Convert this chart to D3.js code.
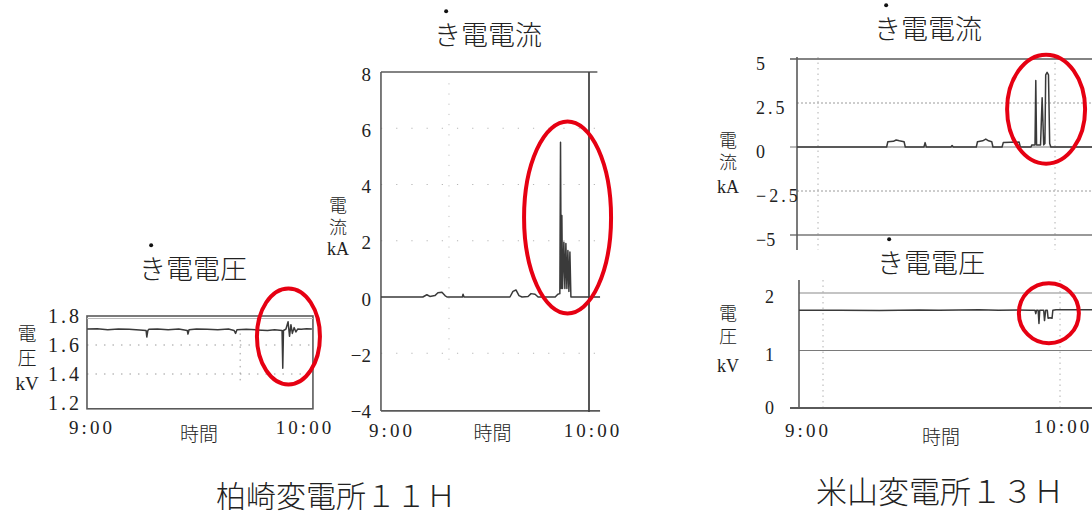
<!DOCTYPE html>
<html><head><meta charset="utf-8">
<script src="https://cdn.jsdelivr.net/npm/d3@7"></script>
<style>
body{margin:0;background:#fff;}
svg{display:block;}
text{font-family:"Liberation Serif","DejaVu Serif","Noto Sans CJK JP",serif;fill:#222;}
.cjk{font-family:"Noto Sans CJK JP",sans-serif;font-weight:300;}
.vert{writing-mode:vertical-rl;text-orientation:upright;}
</style></head><body>
<svg id="c" width="1092" height="516"></svg>
<script>
// ---------- data ----------
const timeTicks = [0, 60];               // minutes after 9:00
const timeTickLabels = ["9:00", "10:00"];

// 柏崎変電所11H  き電電圧 (kV)
const kVoltTicks = [1.8, 1.6, 1.4, 1.2];
const kVoltTickLabels = ["1.8", "1.6", "1.4", "1.2"];
const kVoltTime  = [-0.8, 2, 5, 8, 11, 14, 15.8, 16.0, 16.3, 16.6, 19, 22, 25, 27.4, 27.6, 27.9, 30, 33, 36, 39, 40.6, 41, 41.4, 44, 47, 50, 52, 54.1, 54.3, 54.5, 55.2, 55.8, 56.2, 56.6, 57.0, 57.5, 58.0, 58.5, 59.5, 61, 62.5];
const kVoltValue = [1.71, 1.712, 1.706, 1.71, 1.708, 1.704, 1.70, 1.655, 1.70, 1.708, 1.71, 1.705, 1.71, 1.70, 1.675, 1.705, 1.71, 1.708, 1.706, 1.71, 1.70, 1.68, 1.705, 1.708, 1.704, 1.70, 1.705, 1.70, 1.44, 1.70, 1.71, 1.76, 1.66, 1.74, 1.68, 1.72, 1.69, 1.71, 1.708, 1.712, 1.71];

// 柏崎変電所11H  き電電流 (kA)
const kCurTicks = [8, 6, 4, 2, 0, -2, -4];
const kCurTickLabels = ["8", "6", "4", "2", "0", "−2", "−4"];
const kCurTime  = [-2.1, 10.4, 11.6, 12.5, 14, 14.9, 16.1, 17, 17.6, 22.2, 22.4, 22.7, 36.4, 37.3, 38.2, 39.1, 40, 41.8, 42.7, 43.9, 44.8, 49.9, 50.7, 51.3, 51.5, 51.7, 51.9, 52.1, 52.5, 52.8, 53.1, 53.4, 53.7, 54.0, 54.3, 54.6, 63.3];
const kCurValue = [0, 0, 0.08, 0.02, 0.05, 0.15, 0.17, 0.05, 0, 0, 0.1, 0, 0, 0.2, 0.25, 0.05, 0, 0.02, 0.12, 0.1, 0, 0, 0.1, 0.12, 5.5, 0.3, 2.9, 0.3, 1.95, 0.3, 1.9, 0.3, 1.65, 0.2, 1.6, 0, 0];

// 米山変電所13H  き電電流 (kA)
const yCurTicks = [5, 2.5, 0, -2.5, -5];
const yCurTickLabels = ["5", "2.5", "0", "−2.5", "−5"];
const yCurTime  = [-5.8, 16.8, 17.1, 18.5, 19.2, 20.0, 21.2, 21.5, 26.2, 26.5, 26.8, 33, 33.3, 33.6, 39.4, 39.7, 41, 41.8, 42.5, 43.3, 43.6, 45.9, 46.2, 50.2, 50.5, 53.2, 53.4, 54.2, 54.4, 54.6, 55.6, 56.0, 56.4, 56.7, 56.9, 57.25, 57.6, 57.9, 58.2, 68.6];
const yCurValue = [0, 0, 0.3, 0.32, 0.4, 0.35, 0.3, 0, 0, 0.25, 0, 0, 0.08, 0, 0, 0.3, 0.35, 0.45, 0.35, 0.3, 0, 0, 0.25, 0.28, 0, 0, 0.12, 0.12, 3.78, 0.12, 0.12, 2.8, 0.12, 0.2, 4.1, 4.24, 4.1, 0.2, 0, 0];

// 米山変電所13H  き電電圧 (kV)
const yVoltTicks = [2, 1, 0];
const yVoltTickLabels = ["2", "1", "0"];
const yVoltTime  = [-5.3, 5, 15, 25, 30, 40, 45, 50, 53, 54.2, 54.4, 54.6, 55.0, 55.2, 55.4, 56.4, 56.6, 56.9, 57.3, 57.5, 58.0, 58.5, 58.7, 59.5, 69];
const yVoltValue = [1.70, 1.70, 1.695, 1.705, 1.70, 1.71, 1.70, 1.705, 1.70, 1.70, 1.64, 1.70, 1.70, 1.47, 1.70, 1.70, 1.52, 1.70, 1.70, 1.56, 1.57, 1.56, 1.70, 1.71, 1.71];

// red annotation rings: [time, value]
const kVoltRing = [55.9, 1.659];
const kCurRing  = [53.6, 2.83];
const yCurRing  = [57.0, 2.15];
const yVoltRing = [57.7, 1.65];

const titleVolt = "き電電圧";
const titleCur = "き電電流";
const captions = ["柏崎変電所１１Ｈ", "米山変電所１３Ｈ"];
const xAxisName = "時間";
const voltName = ["電圧", "kV"];
const curName = ["電流", "kA"];

// ---------- drawing ----------
const svg = d3.select("#c");
const FR = "#5a5a5a", SIG = "#3a3a3a", GRID = "#9a9a9a", RED = "#e60012";

function hline(g, y, x1, x2, color, w, dash) {
  g.append("line").attr("x1", x1).attr("x2", x2).attr("y1", y).attr("y2", y)
    .attr("stroke", color).attr("stroke-width", w).attr("stroke-dasharray", dash || null);
}
function vline(g, x, y1, y2, color, w, dash) {
  g.append("line").attr("x1", x).attr("x2", x).attr("y1", y1).attr("y2", y2)
    .attr("stroke", color).attr("stroke-width", w).attr("stroke-dasharray", dash || null);
}
function signal(g, x, y, ts, vs) {
  const line = d3.line().x(i => x(ts[i])).y(i => y(vs[i]));
  g.append("path").attr("d", line(d3.range(ts.length)))
    .attr("fill", "none").attr("stroke", SIG).attr("stroke-width", 1.5).attr("stroke-linejoin", "round");
}
function title(g, cx, base, txt, size) {
  g.append("text").attr("class", "cjk").attr("x", cx).attr("y", base)
    .attr("text-anchor", "middle").attr("font-size", size).text(txt);
  g.append("circle").attr("cx", cx - size * 1.55).attr("cy", base - size * 1.25).attr("r", 2).attr("fill", "#111");
}
// vertical two-character name + unit below
function yname(g, x, top, unitBase, names, size, gap) {
  g.append("text").attr("class", "cjk vert").attr("x", x).attr("y", top)
    .attr("font-size", size).attr("letter-spacing", gap).text(names[0]);
  g.append("text").attr("x", x).attr("y", unitBase).attr("text-anchor", "middle")
    .attr("font-size", size).text(names[1]);
}
function ring(g, cx, cy, rx, ry) {
  g.append("ellipse").attr("cx", cx).attr("cy", cy).attr("rx", rx).attr("ry", ry)
    .attr("fill", "none").attr("stroke", RED).attr("stroke-width", 4);
}

// ===== Panel 1: 柏崎 voltage =====
{
  const g = svg.append("g");
  const x = d3.scaleLinear().domain([0, 60]).range([90, 303]);
  const y = d3.scaleLinear().domain([1.2, 1.8]).range([403, 316]);
  const L = x(-0.85), R = x(62.8), B = y(1.16);
  [1.6, 1.4].forEach(v => hline(g, y(v), L, R, GRID, 1, "1.5,7"));
  vline(g, x(42.3), y(1.68), y(1.34), GRID, 1, "1.5,5");
  g.append("rect").attr("x", L).attr("y", y(1.8)).attr("width", R - L).attr("height", B - y(1.8))
    .attr("fill", "none").attr("stroke", FR).attr("stroke-width", 1.6);
  hline(g, y(1.8) + 2.5, L, R, "#bbb", 1);
  signal(g, x, y, kVoltTime, kVoltValue);
  kVoltTicks.forEach((v, i) => g.append("text").attr("x", 82).attr("y", y(v)).attr("dy", "0.35em")
    .attr("text-anchor", "end").attr("font-size", 20).attr("letter-spacing", 3).text(kVoltTickLabels[i]));
  timeTicks.forEach((t, i) => g.append("text").attr("x", x(t) + 2).attr("y", 434)
    .attr("text-anchor", "middle").attr("font-size", 19).attr("letter-spacing", 3).text(timeTickLabels[i]));
  g.append("text").attr("class", "cjk").attr("x", x(30.7)).attr("y", 441).attr("text-anchor", "middle").attr("font-size", 19).text(xAxisName);
  yname(g, 27, 324, 390, voltName, 19, 5);
  title(g, 193, 279, titleVolt, 27);
  ring(g, x(kVoltRing[0]), y(kVoltRing[1]), 31.5, 48);
}

// ===== Panel 2: 柏崎 current =====
{
  const g = svg.append("g");
  const x = d3.scaleLinear().domain([0, 60]).range([388, 589]);
  const y = d3.scaleLinear().domain([-4, 8]).range([409.5, 72]);
  const L = x(-2.1), R = x(62.5), RR = x(63.3), B = y(-4.05);
  [6, 4, 2, -2].forEach(v => hline(g, y(v), L, R, "#b5b5b5", 1, "1.2,14"));
  vline(g, x(18.2), y(7.6), y(-2.5), "#c0c0c0", 1, "1.2,9");
  vline(g, L, y(8), B, FR, 1.6);
  hline(g, y(8), L, R, FR, 1.6);
  hline(g, B, L, RR, FR, 1.6);
  vline(g, x(60), y(8), B + 1, "#444", 1.8);
  signal(g, x, y, kCurTime, kCurValue);
  kCurTicks.forEach((v, i) => g.append("text").attr("x", 371).attr("y", y(v) + 2).attr("dy", "0.35em")
    .attr("text-anchor", "end").attr("font-size", 19).text(kCurTickLabels[i]));
  timeTicks.forEach((t, i) => g.append("text").attr("x", x(t) + 4).attr("y", 437)
    .attr("text-anchor", "middle").attr("font-size", 19).attr("letter-spacing", 3).text(timeTickLabels[i]));
  g.append("text").attr("class", "cjk").attr("x", x(31.2)).attr("y", 440).attr("text-anchor", "middle").attr("font-size", 19).text(xAxisName);
  yname(g, 338, 196, 255, curName, 18, 4);
  title(g, 488, 45, titleCur, 27);
  ring(g, x(kCurRing[0]), y(kCurRing[1]), 43.5, 96);
}

// ===== Panel 3: 米山 current =====
{
  const g = svg.append("g");
  const x = d3.scaleLinear().domain([0, 60]).range([820, 1058]);
  const y = d3.scaleLinear().domain([-5, 5]).range([235, 59]);
  const L = 797;
  vline(g, x(0) - 2, 57, 250, "#b0b0b0", 1, "1.5,4");
  vline(g, x(60) - 3, 57, 250, "#b0b0b0", 1, "1.5,4");
  [2.5, -2.5].forEach(v => hline(g, y(v), L, 1092, GRID, 1, "2,2"));
  hline(g, y(5), 790, 1092, FR, 1.6);
  hline(g, y(0), 790, 1092, "#777", 1.2);
  hline(g, y(-5), 790, 1092, "#777", 1.3);
  vline(g, L, 57, 250, FR, 1.6);
  signal(g, x, y, yCurTime, yCurValue);
  yCurTicks.forEach((v, i) => g.append("text").attr("x", 756).attr("y", y(v) + 5).attr("dy", "0.35em")
    .attr("text-anchor", "start").attr("font-size", 18).attr("letter-spacing", v % 1 ? 3 : 0).text(yCurTickLabels[i]));
  yname(g, 728, 131, 193, curName, 18, 4);
  title(g, 928, 39, titleCur, 27);
  ring(g, x(yCurRing[0]), y(yCurRing[1]), 39, 54.5);
}

// ===== Panel 4: 米山 voltage =====
{
  const g = svg.append("g");
  const x = d3.scaleLinear().domain([0, 60]).range([820, 1058]);
  const y = d3.scaleLinear().domain([0, 2]).range([408, 293]);
  const L = 799;
  vline(g, x(0) + 3, 280, y(0), "#b0b0b0", 1, "1.5,4");
  vline(g, x(60) + 2, 280, y(0), "#b0b0b0", 1, "1.5,4");
  hline(g, y(2), L, 1092, "#8a8a8a", 1.2);
  hline(g, y(1), L, 1092, "#7a7a7a", 1.2);
  hline(g, y(0), 790, 1092, FR, 1.8);
  vline(g, L, 280, y(0) + 1, FR, 1.6);
  signal(g, x, y, yVoltTime, yVoltValue);
  yVoltTicks.forEach((v, i) => g.append("text").attr("x", 765).attr("y", y(v) + (v === 0 ? 0 : 4)).attr("dy", "0.35em")
    .attr("text-anchor", "start").attr("font-size", 18).text(yVoltTickLabels[i]));
  timeTicks.forEach((t, i) => g.append("text").attr("x", x(t) + (i === 0 ? -12 : 5)).attr("y", i === 0 ? 437 : 433)
    .attr("text-anchor", "middle").attr("font-size", 19).attr("letter-spacing", 3).text(timeTickLabels[i]));
  g.append("text").attr("class", "cjk").attr("x", x(30.5)).attr("y", 444).attr("text-anchor", "middle").attr("font-size", 19).text(xAxisName);
  yname(g, 728, 304, 372, voltName, 18, 5);
  title(g, 931, 273, titleVolt, 27);
  ring(g, x(yVoltRing[0]), y(yVoltRing[1]), 30, 30);
}

// ===== captions =====
svg.append("text").attr("class", "cjk").attr("x", 336).attr("y", 507).attr("text-anchor", "middle").attr("font-size", 30).text(captions[0]);
svg.append("text").attr("class", "cjk").attr("x", 940).attr("y", 503).attr("text-anchor", "middle").attr("font-size", 31).text(captions[1]);
</script>
</body></html>
